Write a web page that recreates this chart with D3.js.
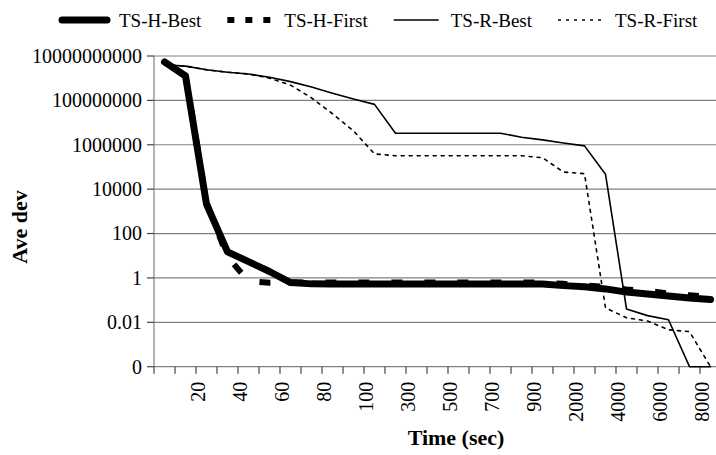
<!DOCTYPE html>
<html>
<head>
<meta charset="utf-8">
<script src="https://cdn.jsdelivr.net/npm/d3@7"></script>
<style>
  body { margin: 0; background: #fff; }
  svg { display: block; }
  svg text { font-family: "Liberation Serif", "Times New Roman", serif; fill: #000; }
</style>
</head>
<body>
<svg id="chart" width="716" height="455" font-family="Liberation Serif"></svg>
<script>
// categories on the time axis (sec)
var categories = ["10","20","30","40","50","60","70","80","90","100",
                  "200","300","400","500","600","700","800","900","1000",
                  "2000","3000","4000","5000","6000","7000","8000","9000"];
var xTickLabels = ["20","40","60","80","100","300","500","700","900","2000","4000","6000","8000"];

var yTicks = [1e10, 1e8, 1e6, 1e4, 100, 1, 0.01, 1e-4];
var yTickLabels = ["10000000000","100000000","1000000","10000","100","1","0.01","0"];

var tsHBest = [5.4e9, 1.26e9, 2100, 15, 5.4, 1.95, 0.62, 0.54,
               0.53, 0.53, 0.53, 0.53, 0.53, 0.53, 0.53, 0.53, 0.53, 0.53, 0.53,
               0.45, 0.4, 0.32, 0.23, 0.19, 0.155, 0.126, 0.107];
var tsHFirst = [5.4e9, 1.3e9, 2500, 8.8, 0.73, 0.6, 0.62, 0.62,
                0.62, 0.62, 0.62, 0.62, 0.62, 0.62, 0.62, 0.62, 0.62, 0.62, 0.62,
                0.54, 0.46, 0.4, 0.3, 0.26, 0.2, 0.165, 0.14];
var tsRBest = [4e9, 3.5e9, 2.4e9, 1.85e9, 1.55e9, 1.1e9, 7e8, 4e8, 2.1e8, 1.15e8, 6.6e7,
               3.3e6, 3.3e6, 3.3e6, 3.3e6, 3.3e6, 3.3e6,
               2.2e6, 1.66e6, 1.2e6, 8.9e5, 4.7e4,
               0.04, 0.02, 0.013, 1e-4, 1e-4];
var tsRFirst = [4e9, 3.5e9, 2.4e9, 1.85e9, 1.55e9, 1.0e9, 4.9e8, 1.3e8, 2.5e7, 4.2e6, 3.9e5,
                3.2e5, 3.2e5, 3.2e5, 3.2e5, 3.2e5, 3.2e5, 3.2e5,
                2.6e5, 5.9e4, 5e4,
                0.045, 0.016, 0.0115, 0.0046, 0.0038, 1e-4];

var seriesNames = ["TS-H-Best", "TS-H-First", "TS-R-Best", "TS-R-First"];

var svg = d3.select("#chart");
var plotLeft = 154, plotTop = 56, plotBottom = 366.7, band = 21;

var x = d3.scaleBand().domain(categories).range([plotLeft, plotLeft + categories.length * band]);
var y = d3.scaleLog().domain([1e-4, 1e10]).range([plotBottom, plotTop]);

var gridColor = "#808080";

// horizontal gridlines
svg.append("g").selectAll("line").data(yTicks).enter()
   .append("line")
   .attr("x1", plotLeft).attr("x2", x.range()[1])
   .attr("y1", function(d){ return y(d); })
   .attr("y2", function(d){ return y(d); })
   .attr("stroke", gridColor).attr("stroke-width", 1.2);

// y axis line + ticks + labels
svg.append("line")
   .attr("x1", plotLeft).attr("x2", plotLeft).attr("y1", plotTop).attr("y2", plotBottom)
   .attr("stroke", gridColor).attr("stroke-width", 1.2);
svg.append("g").selectAll("line").data(yTicks).enter()
   .append("line")
   .attr("x1", plotLeft - 7).attr("x2", plotLeft)
   .attr("y1", function(d){ return y(d); })
   .attr("y2", function(d){ return y(d); })
   .attr("stroke", "#444").attr("stroke-width", 1.2);
svg.append("g").selectAll("text").data(yTicks).enter()
   .append("text")
   .attr("x", plotLeft - 12)
   .attr("y", function(d){ return y(d); })
   .attr("dy", "0.34em")
   .attr("text-anchor", "end")
   .attr("font-size", 20)
   .text(function(d, i){ return yTickLabels[i]; });

// x ticks at category boundaries
var xBounds = categories.map(function(c){ return x(c); }).concat([x.range()[1]]);
svg.append("g").selectAll("line").data(xBounds).enter()
   .append("line")
   .attr("x1", function(d){ return d; }).attr("x2", function(d){ return d; })
   .attr("y1", plotBottom).attr("y2", plotBottom + 7)
   .attr("stroke", "#444").attr("stroke-width", 1.2);

// x labels, rotated
svg.append("g").selectAll("text").data(xTickLabels).enter()
   .append("text")
   .attr("transform", function(d){
       return "translate(" + (x(d) + band + 2) + "," + (plotBottom + 15) + ") rotate(-90)";
   })
   .attr("dy", "0.34em")
   .attr("text-anchor", "end")
   .attr("font-size", 20)
   .text(function(d){ return d; });

// axis titles
svg.append("text")
   .attr("transform", "translate(27,227) rotate(-90)")
   .attr("text-anchor", "middle")
   .attr("font-size", 22).attr("font-weight", "bold")
   .text("Ave dev");
svg.append("text")
   .attr("x", 456).attr("y", 445)
   .attr("text-anchor", "middle")
   .attr("font-size", 22).attr("font-weight", "bold")
   .text("Time (sec)");

// series
var styles = [
  {w: 7, dash: null, key: null},
  {w: 6, dash: [11, 22], key: "7,11"},
  {w: 1.6, dash: null, key: null},
  {w: 1.6, dash: [3, 5], key: "3,5"}
];
var allSeries = [tsRFirst, tsRBest, tsHBest, tsHFirst];
var styleIdx = [3, 2, 0, 1];

var line = d3.line()
   .x(function(d, i){ return x(categories[i]) + x.bandwidth() / 2; })
   .y(function(d){ return y(d); });

// path length where the path first reaches a given x
function lengthAtX(node, targetX){
  var total = node.getTotalLength(), lo = 0, hi = total;
  for (var n = 0; n < 40; n++){
    var mid = (lo + hi) / 2;
    if (node.getPointAtLength(mid).x < targetX) lo = mid; else hi = mid;
  }
  return lo;
}

allSeries.forEach(function(s, j){
  var st = styles[styleIdx[j]];
  var p = svg.append("path")
     .attr("d", line(s))
     .attr("fill", "none")
     .attr("stroke", "#000")
     .attr("stroke-width", st.w)
     .attr("stroke-linejoin", "round")
     .attr("stroke-linecap", st.dash && st.w > 3 ? "butt" : "round");
  if (st.dash){
    p.attr("stroke-dasharray", st.dash.join(","));
    if (st.w > 3){
      // put a dash start where the reference shows the first separated dash
      var period = st.dash[0] + st.dash[1];
      var L = lengthAtX(p.node(), 234);
      p.attr("stroke-dashoffset", period - (L % period));
    }
  }
});

// legend
var lx = 62, ly = 20;
seriesNames.forEach(function(name, i){
  var st = styles[i];
  svg.append("line")
     .attr("x1", lx).attr("x2", lx + 45)
     .attr("y1", ly).attr("y2", ly)
     .attr("stroke", "#000")
     .attr("stroke-width", st.w)
     .attr("stroke-linecap", i === 0 ? "round" : "butt")
     .attr("stroke-dasharray", st.key);
  var t = svg.append("text")
     .attr("x", lx + 57).attr("y", ly + 7)
     .attr("font-size", 19)
     .text(name);
  lx += 57 + t.node().getComputedTextLength() + 26;
});
</script>
</body>
</html>
